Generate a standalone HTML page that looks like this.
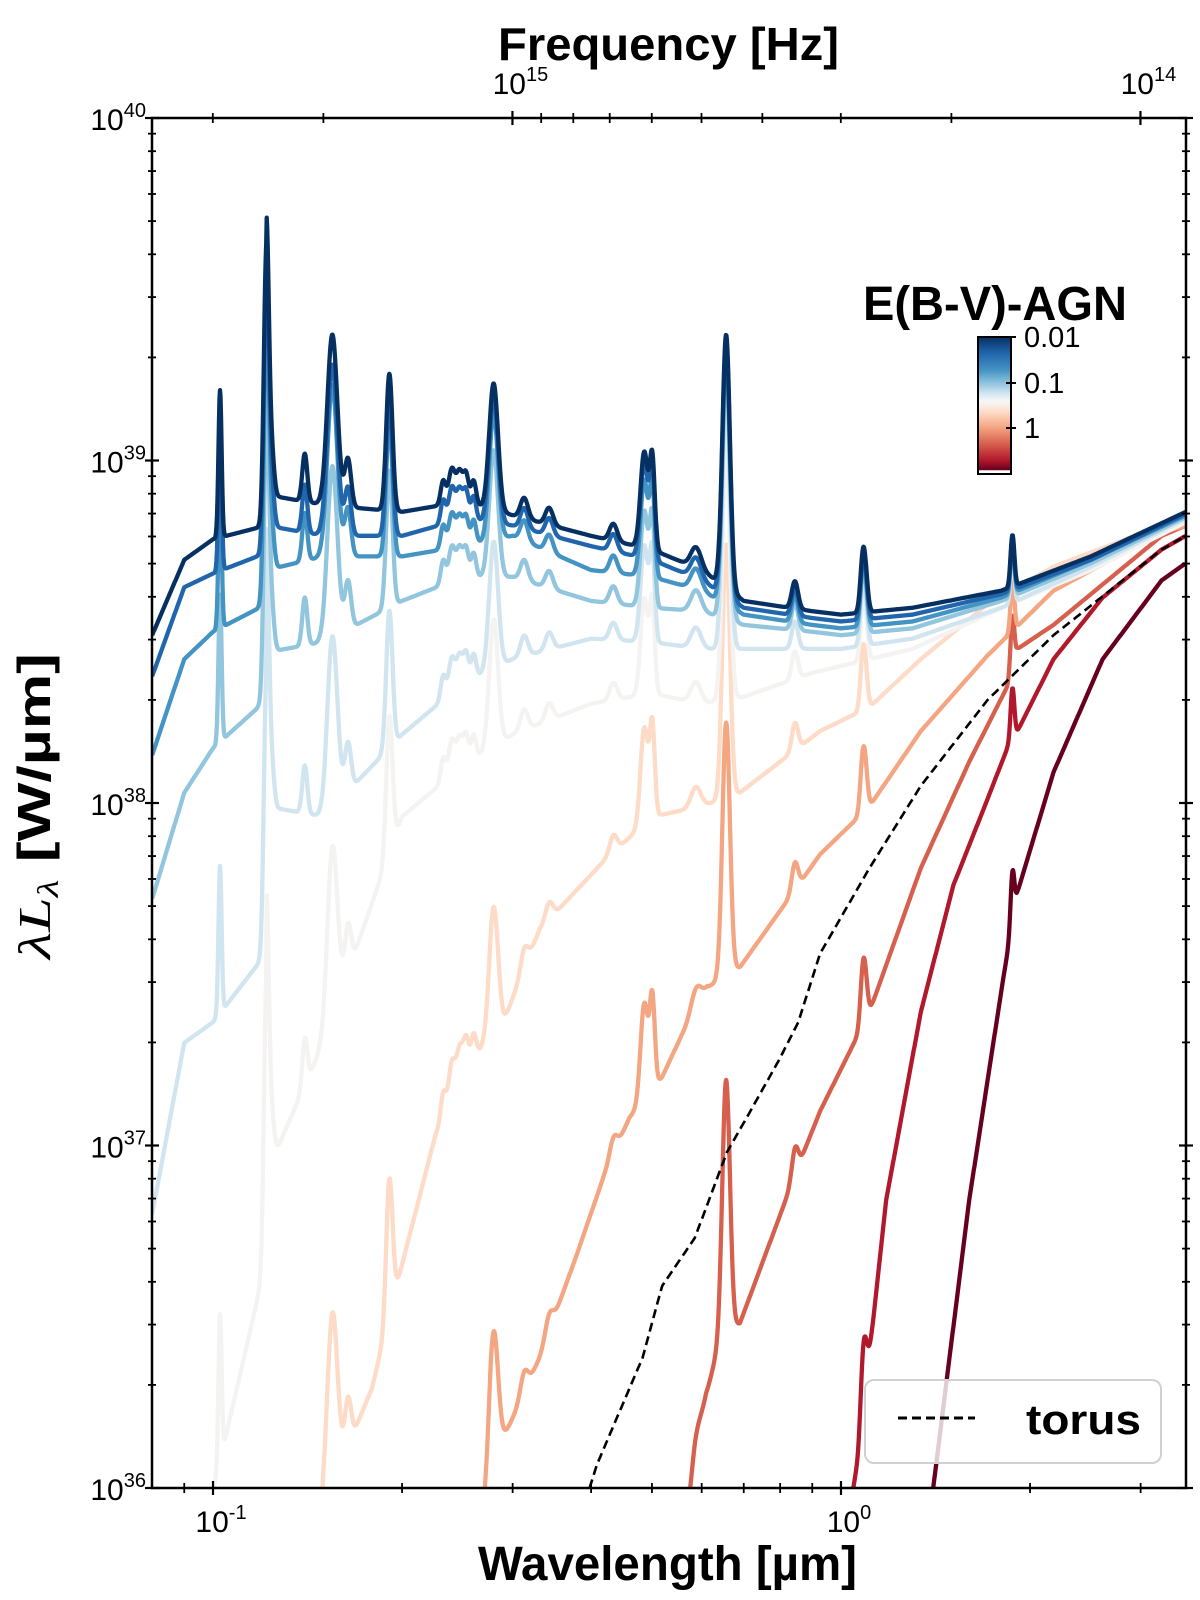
<!DOCTYPE html>
<html><head><meta charset="utf-8"><title>AGN SED</title>
<style>
html,body{margin:0;padding:0;background:#fff;overflow:hidden;width:1200px;height:1600px;}
svg{display:block;font-family:"Liberation Sans",Arial,sans-serif;}
</style></head>
<body>
<svg id="chart" width="1200" height="1600" viewBox="0 0 1200 1600" xmlns="http://www.w3.org/2000/svg">
<defs>
<clipPath id="plotclip"><rect x="152" y="118" width="1034" height="1370"/></clipPath>
<linearGradient id="cbgrad" x1="0" y1="0" x2="0" y2="1">
<stop offset="0" stop-color="#053061"/><stop offset="0.12" stop-color="#2166ac"/><stop offset="0.24" stop-color="#4393c3"/>
<stop offset="0.34" stop-color="#92c5de"/><stop offset="0.41" stop-color="#d1e5f0"/><stop offset="0.47" stop-color="#f7f7f7"/>
<stop offset="0.55" stop-color="#fddbc7"/><stop offset="0.66" stop-color="#f4a582"/><stop offset="0.78" stop-color="#d6604d"/>
<stop offset="0.9" stop-color="#b2182b"/><stop offset="0.97" stop-color="#67001f"/><stop offset="0.975" stop-color="#ffffff"/><stop offset="1" stop-color="#ffffff"/>
</linearGradient>
</defs>
<g id="curves" clip-path="url(#plotclip)"></g>
<g id="axes"></g>
<text x="478" y="1580" font-size="48" font-weight="bold" textLength="379" lengthAdjust="spacingAndGlyphs">Wavelength [µm]</text>
<text x="498" y="60" font-size="46" font-weight="bold" textLength="341" lengthAdjust="spacingAndGlyphs">Frequency [Hz]</text>
<text transform="translate(50,959) rotate(-90)" font-size="46" font-weight="bold" textLength="306" lengthAdjust="spacingAndGlyphs"><tspan font-style="italic" font-family="Liberation Serif, serif" font-weight="normal">λL</tspan><tspan font-style="italic" font-family="Liberation Serif, serif" font-weight="normal" font-size="30" dy="8">λ</tspan><tspan dy="-8"> [W/µm]</tspan></text>
<g>
<text x="863" y="320" font-size="48" font-weight="bold" textLength="264" lengthAdjust="spacingAndGlyphs">E(B-V)-AGN</text>
<rect x="978" y="337" width="33" height="137" fill="url(#cbgrad)" stroke="#000" stroke-width="2"/>
<line x1="1006" y1="337" x2="1016" y2="337" stroke="#000" stroke-width="2"/>
<line x1="1006" y1="383" x2="1016" y2="383" stroke="#000" stroke-width="2"/>
<line x1="1006" y1="428" x2="1016" y2="428" stroke="#000" stroke-width="2"/>
<text x="1024" y="347" font-size="29">0.01</text>
<text x="1024" y="393" font-size="29">0.1</text>
<text x="1024" y="438" font-size="29">1</text>
</g>
<g>
<rect x="865" y="1380" width="296" height="83" rx="9" fill="#fff" fill-opacity="0.8" stroke="#d0d0d0" stroke-width="2"/>
<line x1="898" y1="1418" x2="975" y2="1418" stroke="#000" stroke-width="3" stroke-dasharray="9,5"/>
<text x="1026" y="1434" font-size="42" font-weight="bold" textLength="115" lengthAdjust="spacingAndGlyphs">torus</text>
</g>
</svg>
<script>
// ---- data ----
const waveShared = [0.08,0.09,0.1,0.1215,0.1217,0.15,0.2,0.25,0.3,0.4,0.5,0.6,0.7,0.9,1.0,1.3,1.8,2.5,3.54];
const lumC1 = [38.49,38.71,38.77,38.81,38.90,38.87,38.85,38.88,38.84,38.78,38.74,38.68,38.59,38.56,38.55,38.57,38.62,38.72,38.85];
const lumC2 = [38.37,38.63,38.67,38.73,38.81,38.78,38.78,38.83,38.81,38.75,38.71,38.65,38.57,38.54,38.53,38.55,38.61,38.71,38.845];
const lumC3 = [38.14,38.42,38.50,38.58,38.68,38.72,38.72,38.75,38.78,38.68,38.66,38.62,38.55,38.52,38.51,38.53,38.60,38.71,38.84];
const lumC4 = [37.72,38.03,38.16,38.30,38.44,38.47,38.59,38.66,38.66,38.59,38.57,38.56,38.52,38.50,38.49,38.51,38.59,38.70,38.835];
const lumC5 = [36.80,37.30,37.36,37.56,37.99,37.96,38.20,38.35,38.42,38.48,38.47,38.45,38.45,38.45,38.45,38.48,38.57,38.69,38.83];
const lumC6 = [35.52,35.79,35.99,36.66,36.92,37.30,37.96,38.11,38.20,38.29,38.32,38.29,38.31,38.38,38.40,38.45,38.57,38.68,38.82];
const waveC7 = [0.1,0.12,0.15,0.179,0.196,0.226,0.25,0.29,0.331,0.419,0.5,0.6,0.69,0.926,1.11,1.34,1.71,2.18,3.24,3.54];
const lumC7 = [33.8,34.5,35.95,36.29,36.59,37.03,37.22,37.36,37.63,37.83,37.96,37.99,38.03,38.21,38.28,38.42,38.58,38.69,38.81,38.83];
const waveC8 = [0.2,0.25,0.277,0.301,0.331,0.381,0.419,0.46,0.519,0.557,0.612,0.69,0.855,0.926,1.11,1.34,1.71,2.18,3.24,3.54];
const lumC8 = [34.5,35.5,36.07,36.21,36.38,36.69,36.91,37.08,37.20,37.32,37.46,37.52,37.76,37.85,37.99,38.21,38.43,38.62,38.79,38.81];
const waveC9 = [0.4,0.5,0.55,0.585,0.61,0.643,0.69,0.855,0.926,1.11,1.34,1.60,1.84,1.91,2.18,3.24,3.54];
const lumC9 = [33.5,35.2,35.7,36.07,36.27,36.44,36.48,36.94,37.10,37.39,37.81,38.12,38.34,38.45,38.52,38.78,38.81];
const waveC10 = [1.0,1.064,1.18,1.34,1.51,1.71,1.84,1.91,2.18,2.61,3.24,3.54];
const lumC10 = [35.79,36.08,36.84,37.39,37.76,38.01,38.16,38.21,38.42,38.60,38.74,38.78];
const waveC11 = [1.3,1.42,1.60,1.81,1.91,2.18,2.61,3.24,3.54];
const lumC11 = [35.53,36.08,36.84,37.48,37.74,38.09,38.42,38.65,38.70];
const waveTorus = [0.39,0.409,0.483,0.519,0.585,0.658,0.707,0.797,0.855,0.926,1.11,1.34,1.71,2.18,3.24,3.54];
const lumTorus = [35.95,36.07,36.38,36.59,36.73,36.98,37.08,37.25,37.36,37.56,37.81,38.05,38.30,38.49,38.74,38.78];
const lineWave = [0.1026,0.1216,0.1240,0.1400,0.1549,0.1640,0.1909,0.2326,0.2400,0.2470,0.2530,0.2600,0.2798,0.3130,0.3430,0.4340,0.4861,0.5007,0.5876,0.6563,0.8446,1.0830,1.0940,1.8751];
const lineAmp = [0.43,0.80,0.12,0.14,0.50,0.14,0.40,0.07,0.10,0.09,0.08,0.07,0.37,0.06,0.05,0.05,0.28,0.26,0.06,0.74,0.08,0.14,0.08,0.15];
const lineSigma = [0.0025,0.004,0.004,0.004,0.008,0.005,0.005,0.004,0.005,0.005,0.004,0.004,0.007,0.006,0.006,0.006,0.006,0.004,0.008,0.006,0.005,0.004,0.004,0.003];
const ebvValues = [0.01,0.02,0.04,0.07,0.1,0.2,0.4,0.7,1,2,3];
const yTickDecades = [36,37,38,39,40];
const xTickMajor = [0.1,1];
const freqTickMajor = [1e15,1e14];

// ---- scales ----
const X0 = 213, XDEC = 628, Y0 = 118, YDEC = 342.5;
function xScale(lam){ return X0 + (Math.log10(lam)+1)*XDEC; }
function yScale(L){ return Y0 + (40-L)*YDEC; }
const NS = "http://www.w3.org/2000/svg";
function interp(wv, lv, lam){
  const t = Math.log10(lam);
  for(let i=0;i<wv.length-1;i++){
    const a=Math.log10(wv[i]), b=Math.log10(wv[i+1]);
    if(t>=a && t<=b){ return lv[i]+(lv[i+1]-lv[i])*(t-a)/(b-a); }
  }
  return t<Math.log10(wv[0]) ? lv[0] : lv[lv.length-1];
}
function lineSum(lam){
  const t=Math.log10(lam); let s=0;
  for(let i=0;i<lineWave.length;i++){
    const d=(t-Math.log10(lineWave[i]))/lineSigma[i];
    if(Math.abs(d)<6) s+=lineAmp[i]*Math.exp(-0.5*d*d);
  }
  return s;
}
function buildPath(wv, lv, withLines){
  const lo=Math.log10(wv[0]), hi=Math.log10(wv[wv.length-1]);
  let d="";
  for(let t=lo;t<=hi+1e-9;t+=0.0008){
    const lam=Math.pow(10,t);
    let L=interp(wv,lv,lam); if(withLines) L+=lineSum(lam);
    const y=Math.max(100,Math.min(1500,yScale(L)));
    const x=Math.min(1186,xScale(lam));
    d+=(d?"L":"M")+x.toFixed(1)+","+y.toFixed(1);
  }
  return d;
}
const curvesG=document.getElementById('curves');
const series=[
 {w:waveShared,l:lumC1,c:"#053061",n:"curve-ebv-0.01"},
 {w:waveShared,l:lumC2,c:"#2166ac",n:"curve-ebv-0.02"},
 {w:waveShared,l:lumC3,c:"#4393c3",n:"curve-ebv-0.04"},
 {w:waveShared,l:lumC4,c:"#92c5de",n:"curve-ebv-0.07"},
 {w:waveShared,l:lumC5,c:"#d1e5f0",n:"curve-ebv-0.1"},
 {w:waveShared,l:lumC6,c:"#f4f3f1",n:"curve-ebv-0.2"},
 {w:waveC7,l:lumC7,c:"#fddbc7",n:"curve-ebv-0.4"},
 {w:waveC8,l:lumC8,c:"#f4a582",n:"curve-ebv-0.7"},
 {w:waveC9,l:lumC9,c:"#d6604d",n:"curve-ebv-1"},
 {w:waveC10,l:lumC10,c:"#b2182b",n:"curve-ebv-2"},
 {w:waveC11,l:lumC11,c:"#67001f",n:"curve-ebv-3"}
];
for(let k=series.length-1;k>=0;k--){
  const s=series[k];
  const p=document.createElementNS(NS,"path");
  
  
  p.setAttribute("d",buildPath(s.w,s.l,true));
  p.setAttribute("fill","none"); p.setAttribute("stroke",s.c);
  p.setAttribute("stroke-width","4.3"); p.setAttribute("stroke-linejoin","round");
  curvesG.appendChild(p);
}
const tp=document.createElementNS(NS,"path");


tp.setAttribute("d",buildPath(waveTorus,lumTorus,false));
tp.setAttribute("fill","none"); tp.setAttribute("stroke","#000");
tp.setAttribute("stroke-width","2.6"); tp.setAttribute("stroke-dasharray","9,5");
curvesG.appendChild(tp);

// ---- axes ----
const ax=document.getElementById('axes');
function ln(x1,y1,x2,y2,w,name){
  const e=document.createElementNS(NS,"line");
  
  
  e.setAttribute("x1",x1);e.setAttribute("y1",y1);e.setAttribute("x2",x2);e.setAttribute("y2",y2);
  e.setAttribute("stroke","#000");e.setAttribute("stroke-width",w);ax.appendChild(e);
}
function pow10Label(x,y,exp,anchor,name){
  const t=document.createElementNS(NS,"text");
  
  
  t.setAttribute("x",x);t.setAttribute("y",y);t.setAttribute("font-size","30");t.setAttribute("text-anchor",anchor);
  t.innerHTML='10<tspan font-size="20" dy="-13">'+exp+'</tspan>';
  ax.appendChild(t);
}
const L=152,R=1186,T=118,B=1488;
const frame=document.createElementNS(NS,"rect");


frame.setAttribute("x",L);frame.setAttribute("y",T);frame.setAttribute("width",R-L);frame.setAttribute("height",B-T);
frame.setAttribute("fill","none");frame.setAttribute("stroke","#000");frame.setAttribute("stroke-width","2.5");
ax.appendChild(frame);
yTickDecades.forEach(d=>{
  const y=yScale(d);
  ln(L-7,y,L+7,y,2.2,'y-major-tick'); ln(R-7,y,R+7,y,2.2,'y-major-tick-right');
  pow10Label(146,y+12,String(d),"end",'y-tick-label-'+d);
  if(d<40){ for(let m=2;m<=9;m++){ const yy=yScale(d+Math.log10(m));
    ln(L-4,yy,L+4,yy,1.8,'y-minor-tick'); ln(R-4,yy,R+4,yy,1.8,'y-minor-tick-right'); } }
});
xTickMajor.forEach(v=>{ const x=xScale(v); ln(x,B-7,x,B+7,2.2,'x-major-tick');
  pow10Label(x+8,1532,v===1?"0":"-1","middle",'x-tick-label-'+v); });
[0.09,0.2,0.3,0.4,0.5,0.6,0.7,0.8,0.9,2,3].forEach(v=>{ const x=xScale(v); ln(x,B-5,x,B+5,1.8,'x-minor-tick'); });
function nuToLam(nu){ return 2.99792458e14/nu; }
freqTickMajor.forEach(nu=>{ const x=xScale(nuToLam(nu)); ln(x,T-7,x,T+7,2.2,'top-major-tick');
  pow10Label(x+8,94,nu===1e15?"15":"14","middle",'top-tick-label-'+nu); });
[2e14,3e14,4e14,5e14,6e14,7e14,8e14,9e14,2e15,3e15].forEach(nu=>{ const lam=nuToLam(nu);
  if(lam>=0.0801 && lam<=3.54){ const x=xScale(lam); ln(x,T-5,x,T+5,1.8,'top-minor-tick'); } });
</script>
</body></html>
